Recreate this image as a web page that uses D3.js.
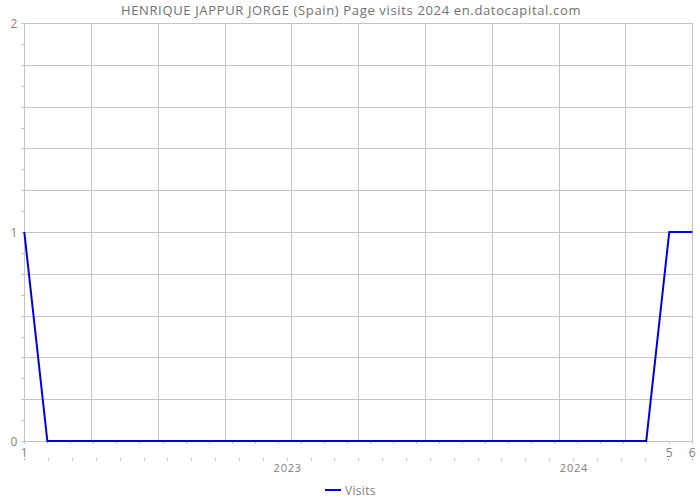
<!DOCTYPE html>
<html><head><meta charset="utf-8">
<script src="https://cdn.jsdelivr.net/npm/d3@7"></script>
<style>body{margin:0;background:#fff;} svg{display:block;font-family:"Open Sans",sans-serif;}</style>
</head><body>
<svg id="c" width="700" height="500"></svg>
<script>
const title = "HENRIQUE JAPPUR JORGE (Spain) Page visits 2024 en.datocapital.com";
const seriesName = "Visits";
// visits per period (30 periods along the axis)
const visits = [1,0,0,0,0,0,0,0,0,0,0,0,0,0,0,0,0,0,0,0,0,0,0,0,0,0,0,0,1,1];
const xTickLabels = [{i:0,t:"1"},{i:28,t:"5"},{i:29,t:"6"}];
const yearLabels = [{m:11,t:"2023"},{m:23,t:"2024"}];
const yTicks = [0,1,2];

const svg = d3.select("#c");
const L=24.3, R=692.3, T=23, B=441;
const x = d3.scaleLinear().domain([0, visits.length-1]).range([L,R]);
const xm = d3.scaleLinear().domain([0,28]).range([L,R]);
const y = d3.scaleLinear().domain([0,2]).range([B,T]);
const grid="#c4c4c4", txt="#808080";

// horizontal grid
svg.append("g").selectAll("line").data(d3.range(0,11).map(i=>i*0.2)).join("line")
  .attr("x1",L).attr("x2",R).attr("y1",d=>Math.round(y(d))+0.5).attr("y2",d=>Math.round(y(d))+0.5)
  .attr("stroke",grid).attr("stroke-width",1);
// vertical grid
svg.append("g").selectAll("line").data(d3.range(0,11).map(i=>i*(visits.length-1)/10)).join("line")
  .attr("x1",d=>Math.round(x(d))+0.5).attr("x2",d=>Math.round(x(d))+0.5).attr("y1",T).attr("y2",B)
  .attr("stroke",grid).attr("stroke-width",1);
// y minor ticks
svg.append("g").selectAll("line").data(d3.range(0,21).map(i=>i*0.1)).join("line")
  .attr("x1",L-3).attr("x2",L).attr("y1",d=>Math.round(y(d))+0.5).attr("y2",d=>Math.round(y(d))+0.5)
  .attr("stroke",grid);
// x ticks on axis
svg.append("g").selectAll("line").data(d3.range(0,visits.length)).join("line")
  .attr("x1",d=>Math.round(x(d))+0.5).attr("x2",d=>Math.round(x(d))+0.5).attr("y1",B).attr("y2",B+3)
  .attr("stroke",grid);
// bottom month ticks
svg.append("g").selectAll("line").data(d3.range(0,29)).join("line")
  .attr("x1",d=>Math.round(xm(d))+0.5).attr("x2",d=>Math.round(xm(d))+0.5).attr("y1",B+17).attr("y2",B+20)
  .attr("stroke",grid);

// y labels
svg.append("g").selectAll("text").data(yTicks).join("text")
  .attr("x",L-7).attr("y",d=>y(d)+4.5).attr("text-anchor","end")
  .attr("font-size",12).attr("fill",txt).text(d=>d);
// x labels
svg.append("g").selectAll("text").data(xTickLabels).join("text")
  .attr("x",d=>x(d.i)).attr("y",B+15.5).attr("text-anchor","middle")
  .attr("font-size",12).attr("fill",txt).text(d=>d.t);
svg.append("g").selectAll("text").data(yearLabels).join("text")
  .attr("x",d=>xm(d.m)+1).attr("y",B+31).attr("text-anchor","middle")
  .attr("font-size",11).attr("letter-spacing",0.8).attr("fill",txt).text(d=>d.t);

// line
svg.append("path").datum(visits)
  .attr("d", d3.line().x((d,i)=>x(i)).y(d=>y(d)))
  .attr("fill","none").attr("stroke","#0000dd").attr("stroke-width",2);

// title
svg.append("text").attr("x",351).attr("y",15).attr("text-anchor","middle")
  .attr("font-size",13).attr("letter-spacing",0.65).attr("fill","#707070").text(title);

// legend
svg.append("line").attr("x1",325).attr("x2",341).attr("y1",490).attr("y2",490)
  .attr("stroke","#0000dd").attr("stroke-width",2);
svg.append("text").attr("x",345).attr("y",494.5).attr("font-size",12).attr("letter-spacing",0.3).attr("fill",txt).text(seriesName);
</script>
</body></html>
